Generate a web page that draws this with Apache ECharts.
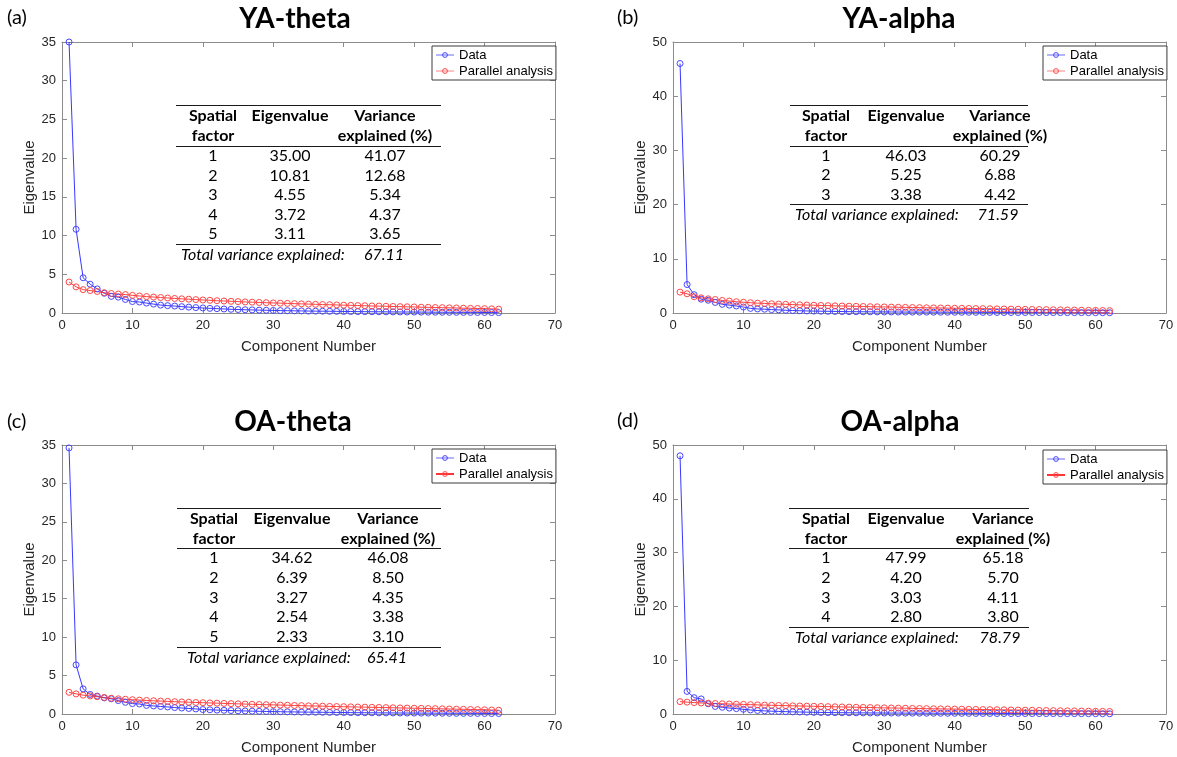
<!DOCTYPE html>
<html>
<head>
<meta charset="utf-8">
<title>Scree plots with parallel analysis</title>
<script src="https://cdn.jsdelivr.net/npm/echarts@6/dist/echarts.min.js"></script>
<style>
  html, body { margin: 0; padding: 0; background: #fff; }
  #chart { width: 1177px; height: 757px; }
</style>
</head>
<body>
<div id="chart"></div>
<script>
// ---- data -------------------------------------------------------------
const xTicks = [0, 10, 20, 30, 40, 50, 60, 70];

// YA-theta
const yaThetaData = [35.00, 10.81, 4.55, 3.72, 3.11, 2.55, 2.15, 2.05, 1.75, 1.48,
  1.42, 1.28, 1.15, 1.02, 0.95, 0.90, 0.82, 0.76, 0.70, 0.65,
  0.60, 0.56, 0.52, 0.48, 0.45, 0.42, 0.40, 0.37, 0.35, 0.33,
  0.31, 0.30, 0.28, 0.27, 0.25, 0.24, 0.23, 0.22, 0.21, 0.20,
  0.19, 0.18, 0.17, 0.165, 0.16, 0.15, 0.14, 0.135, 0.13, 0.12,
  0.115, 0.11, 0.10, 0.095, 0.09, 0.085, 0.08, 0.075, 0.07, 0.065,
  0.06, 0.05];
const yaThetaParallel = [4.00, 3.38, 3.02, 2.90, 2.78, 2.62, 2.52, 2.45, 2.38, 2.28,
  2.20, 2.12, 2.06, 2.00, 1.94, 1.88, 1.83, 1.78, 1.73, 1.68,
  1.64, 1.59, 1.55, 1.51, 1.47, 1.43, 1.40, 1.36, 1.33, 1.30,
  1.27, 1.24, 1.21, 1.18, 1.15, 1.12, 1.09, 1.07, 1.04, 1.01,
  0.99, 0.96, 0.94, 0.91, 0.89, 0.87, 0.84, 0.82, 0.80, 0.78,
  0.75, 0.73, 0.71, 0.69, 0.67, 0.65, 0.62, 0.60, 0.58, 0.56,
  0.53, 0.50];
const yaThetaTable = [
  ['1', '35.00', '41.07'],
  ['2', '10.81', '12.68'],
  ['3', '4.55', '5.34'],
  ['4', '3.72', '4.37'],
  ['5', '3.11', '3.65']
];
const yaThetaTotal = '67.11';

// YA-alpha
const yaAlphaData = [46.03, 5.25, 3.38, 2.55, 2.35, 1.95, 1.60, 1.45, 1.30, 1.10,
  0.85, 0.75, 0.70, 0.62, 0.58, 0.50, 0.46, 0.42, 0.38, 0.35,
  0.33, 0.31, 0.29, 0.27, 0.25, 0.24, 0.23, 0.22, 0.21, 0.20,
  0.19, 0.18, 0.17, 0.165, 0.16, 0.155, 0.15, 0.145, 0.14, 0.135,
  0.13, 0.125, 0.12, 0.115, 0.11, 0.105, 0.10, 0.097, 0.094, 0.09,
  0.087, 0.084, 0.08, 0.077, 0.074, 0.07, 0.067, 0.064, 0.06, 0.057,
  0.054, 0.05];
const yaAlphaParallel = [3.85, 3.55, 3.00, 2.80, 2.62, 2.48, 2.32, 2.20, 2.08, 1.98,
  1.90, 1.82, 1.76, 1.70, 1.65, 1.60, 1.55, 1.51, 1.47, 1.43,
  1.39, 1.36, 1.32, 1.29, 1.26, 1.23, 1.20, 1.17, 1.14, 1.12,
  1.09, 1.06, 1.04, 1.01, 0.99, 0.96, 0.94, 0.92, 0.90, 0.88,
  0.86, 0.84, 0.82, 0.80, 0.78, 0.76, 0.74, 0.72, 0.70, 0.68,
  0.66, 0.64, 0.62, 0.60, 0.58, 0.56, 0.54, 0.52, 0.50, 0.48,
  0.46, 0.43];
const yaAlphaTable = [
  ['1', '46.03', '60.29'],
  ['2', '5.25', '6.88'],
  ['3', '3.38', '4.42']
];
const yaAlphaTotal = '71.59';

// OA-theta
const oaThetaData = [34.62, 6.39, 3.27, 2.54, 2.33, 2.10, 1.98, 1.75, 1.52, 1.35,
  1.30, 1.12, 1.05, 0.98, 0.92, 0.84, 0.78, 0.72, 0.66, 0.58,
  0.55, 0.51, 0.48, 0.45, 0.42, 0.40, 0.37, 0.35, 0.33, 0.31,
  0.30, 0.28, 0.27, 0.25, 0.24, 0.23, 0.22, 0.21, 0.20, 0.19,
  0.18, 0.17, 0.165, 0.16, 0.15, 0.145, 0.14, 0.13, 0.125, 0.12,
  0.115, 0.11, 0.105, 0.10, 0.095, 0.09, 0.085, 0.08, 0.075, 0.07,
  0.065, 0.06];
const oaThetaParallel = [2.82, 2.62, 2.45, 2.35, 2.25, 2.15, 2.05, 1.98, 1.92, 1.86,
  1.81, 1.76, 1.72, 1.68, 1.64, 1.60, 1.57, 1.53, 1.50, 1.47,
  1.44, 1.41, 1.38, 1.35, 1.32, 1.29, 1.26, 1.24, 1.21, 1.19,
  1.16, 1.14, 1.11, 1.09, 1.06, 1.04, 1.02, 0.99, 0.97, 0.95,
  0.93, 0.91, 0.89, 0.87, 0.85, 0.83, 0.81, 0.79, 0.77, 0.75,
  0.73, 0.71, 0.69, 0.67, 0.65, 0.63, 0.61, 0.59, 0.57, 0.55,
  0.52, 0.49];
const oaThetaTable = [
  ['1', '34.62', '46.08'],
  ['2', '6.39', '8.50'],
  ['3', '3.27', '4.35'],
  ['4', '2.54', '3.38'],
  ['5', '2.33', '3.10']
];
const oaThetaTotal = '65.41';

// OA-alpha
const oaAlphaData = [47.99, 4.20, 3.03, 2.80, 1.90, 1.40, 1.25, 1.10, 1.00, 0.88,
  0.75, 0.65, 0.58, 0.52, 0.48, 0.44, 0.40, 0.37, 0.34, 0.31,
  0.29, 0.27, 0.25, 0.24, 0.23, 0.22, 0.21, 0.20, 0.19, 0.18,
  0.175, 0.17, 0.16, 0.155, 0.15, 0.145, 0.14, 0.135, 0.13, 0.125,
  0.12, 0.115, 0.11, 0.105, 0.10, 0.098, 0.095, 0.092, 0.09, 0.087,
  0.084, 0.08, 0.077, 0.074, 0.07, 0.067, 0.064, 0.06, 0.057, 0.054,
  0.05, 0.045];
const oaAlphaParallel = [2.30, 2.20, 2.12, 2.05, 2.00, 1.95, 1.90, 1.86, 1.82, 1.78,
  1.74, 1.70, 1.66, 1.62, 1.59, 1.56, 1.52, 1.49, 1.46, 1.43,
  1.40, 1.37, 1.34, 1.31, 1.28, 1.25, 1.22, 1.20, 1.17, 1.14,
  1.12, 1.09, 1.07, 1.04, 1.02, 1.00, 0.97, 0.95, 0.93, 0.91,
  0.89, 0.87, 0.85, 0.83, 0.81, 0.79, 0.77, 0.75, 0.73, 0.71,
  0.69, 0.67, 0.65, 0.63, 0.61, 0.59, 0.57, 0.55, 0.53, 0.51,
  0.49, 0.47];
const oaAlphaTable = [
  ['1', '47.99', '65.18'],
  ['2', '4.20', '5.70'],
  ['3', '3.03', '4.11'],
  ['4', '2.80', '3.80']
];
const oaAlphaTotal = '78.79';

const headerLeft = ['Spatial', 'factor'];
const headerMid = 'Eigenvalue';
const headerRight = ['Variance', 'explained (%)'];
const totalLabel = 'Total variance explained:';

// ---- layout & style ---------------------------------------------------
const UI_FONT = '"Liberation Sans", Arial, sans-serif';
const DOC_FONT = 'Lato, "Open Sans", sans-serif';
const BLUE_LINE = 'rgba(20,20,255,0.85)';
const BLUE_MARK = 'rgb(70,70,255)';
const RED_LINE = 'rgba(255,30,30,0.85)';
const RED_MARK = 'rgb(255,70,70)';
const AXIS_COLOR = '#8c8c8c';
const LABEL_COLOR = '#262626';

const panels = [
  {
    tag: '(a)', title: 'YA-theta', data: yaThetaData, parallel: yaThetaParallel,
    rows: yaThetaTable, total: yaThetaTotal, yMax: 35, yStep: 5,
    grid: { left: 62, top: 42, width: 493, height: 271 },
    tagPos: [7, 18], titlePos: [295, 19],
    legend: { left: 432, top: 46, paLine: 'rgba(255,80,80,0.35)' },
    table: { x0: 176, x1: 441, top: 105, h1: 116, h2: 136, rule: 146, row0: 156, step: 19.5,
             cols: [213, 290, 385], totalX: 181, totalValX: 384 }
  },
  {
    tag: '(b)', title: 'YA-alpha', data: yaAlphaData, parallel: yaAlphaParallel,
    rows: yaAlphaTable, total: yaAlphaTotal, yMax: 50, yStep: 10,
    grid: { left: 673, top: 42, width: 493, height: 271 },
    tagPos: [617, 18], titlePos: [899, 19],
    legend: { left: 1043, top: 46, paLine: 'rgba(255,80,80,0.35)' },
    table: { x0: 790, x1: 1028, top: 105, h1: 116, h2: 136, rule: 146, row0: 156, step: 19.3,
             cols: [826, 906, 1000], totalX: 795, totalValX: 998 }
  },
  {
    tag: '(c)', title: 'OA-theta', data: oaThetaData, parallel: oaThetaParallel,
    rows: oaThetaTable, total: oaThetaTotal, yMax: 35, yStep: 5,
    grid: { left: 62, top: 445, width: 493, height: 269 },
    tagPos: [7, 422], titlePos: [293, 422],
    legend: { left: 432, top: 449, paLine: 'rgba(255,30,30,0.9)' },
    table: { x0: 177, x1: 441, top: 508, h1: 519, h2: 539, rule: 548, row0: 558, step: 19.75,
             cols: [214, 292, 388], totalX: 187, totalValX: 387 }
  },
  {
    tag: '(d)', title: 'OA-alpha', data: oaAlphaData, parallel: oaAlphaParallel,
    rows: oaAlphaTable, total: oaAlphaTotal, yMax: 50, yStep: 10,
    grid: { left: 673, top: 445, width: 493, height: 269 },
    tagPos: [617, 421], titlePos: [900, 422],
    legend: { left: 1043, top: 450, paLine: 'rgba(255,30,30,0.9)' },
    table: { x0: 789, x1: 1029, top: 508, h1: 519, h2: 539, rule: 548, row0: 558, step: 19.7,
             cols: [826, 906, 1003], totalX: 795, totalValX: 1000 }
  }
];

// ---- option builders --------------------------------------------------
function toPoints(values) {
  return values.map((v, i) => [i + 1, v]);
}

function axisCommon(show) {
  return {
    axisLine: { show: true, onZero: false, lineStyle: { color: AXIS_COLOR, width: 1 } },
    axisTick: { show: true, inside: true, length: 5, lineStyle: { color: AXIS_COLOR } },
    axisLabel: { show: show, fontFamily: UI_FONT, fontSize: 13, color: LABEL_COLOR, margin: 6 },
    splitLine: { show: false }
  };
}

const grids = [], xAxes = [], yAxes = [], series = [], legends = [], graphics = [];

panels.forEach((p, i) => {
  grids.push(Object.assign({ containLabel: false }, p.grid));

  xAxes.push(Object.assign({
    gridIndex: i, type: 'value', position: 'bottom',
    min: xTicks[0], max: xTicks[xTicks.length - 1], interval: xTicks[1] - xTicks[0],
    name: 'Component Number', nameLocation: 'middle', nameGap: 26,
    nameTextStyle: { fontFamily: UI_FONT, fontSize: 15, color: LABEL_COLOR }
  }, axisCommon(true)));
  xAxes.push(Object.assign({
    gridIndex: i, type: 'value', position: 'top',
    min: xTicks[0], max: xTicks[xTicks.length - 1], interval: xTicks[1] - xTicks[0]
  }, axisCommon(false)));

  yAxes.push(Object.assign({
    gridIndex: i, type: 'value', position: 'left',
    min: 0, max: p.yMax, interval: p.yStep,
    name: 'Eigenvalue', nameLocation: 'middle', nameGap: 22,
    nameTextStyle: { fontFamily: UI_FONT, fontSize: 15, color: LABEL_COLOR }
  }, axisCommon(true)));
  yAxes.push(Object.assign({
    gridIndex: i, type: 'value', position: 'right',
    min: 0, max: p.yMax, interval: p.yStep
  }, axisCommon(false)));

  const lineSeries = (name, values, lineColor, markColor) => ({
    name: name, type: 'line',
    xAxisIndex: 2 * i, yAxisIndex: 2 * i,
    data: toPoints(values),
    symbol: 'circle', symbolSize: 6, showAllSymbol: true,
    lineStyle: { color: lineColor, width: 1 },
    itemStyle: { color: 'rgba(255,255,255,0)', borderColor: markColor, borderWidth: 1 },
    emphasis: { disabled: true },
    animation: false
  });
  series.push(lineSeries('Data', p.data, BLUE_LINE, BLUE_MARK));
  series.push(lineSeries('Parallel analysis', p.parallel, RED_LINE, RED_MARK));

  legends.push({
    orient: 'vertical', left: p.legend.left, top: p.legend.top,
    backgroundColor: '#fff', borderColor: '#3a3a3a', borderWidth: 1, borderRadius: 0,
    padding: [2, 3, 2, 3], itemGap: 2, itemWidth: 18, itemHeight: 6,
    selectedMode: false,
    textStyle: { fontFamily: UI_FONT, fontSize: 13, color: '#000', lineHeight: 14 },
    data: [
      { name: 'Data', lineStyle: { color: 'rgba(90,90,255,0.45)' },
        itemStyle: { color: 'rgba(255,255,255,0)', borderColor: BLUE_MARK, borderWidth: 1 } },
      { name: 'Parallel analysis', lineStyle: { color: p.legend.paLine },
        itemStyle: { color: 'rgba(255,255,255,0)', borderColor: RED_MARK, borderWidth: 1 } }
    ]
  });

  // panel tag and title
  graphics.push({
    type: 'text', x: p.tagPos[0], y: p.tagPos[1],
    style: { text: p.tag, font: '20px ' + DOC_FONT, fill: '#000', align: 'left', verticalAlign: 'middle' }
  });
  graphics.push({
    type: 'text', x: p.titlePos[0], y: p.titlePos[1],
    style: { text: p.title, font: 'bold 28px ' + DOC_FONT, fill: '#000', align: 'center', verticalAlign: 'middle' }
  });

  // summary table
  const t = p.table;
  const rule = (y) => ({
    type: 'line', shape: { x1: t.x0, y1: Math.round(y) + 0.5, x2: t.x1, y2: Math.round(y) + 0.5 },
    style: { stroke: '#1a1a1a', lineWidth: 1 }
  });
  const cell = (text, x, y, weight, italic) => ({
    type: 'text', x: x, y: y,
    style: {
      text: text, fill: '#000', align: 'center', verticalAlign: 'middle',
      font: (italic ? 'italic ' : '') + (weight || 'normal') + ' 16px ' + DOC_FONT
    }
  });
  graphics.push(rule(t.top));
  graphics.push(cell(headerLeft[0], t.cols[0], t.h1, 'bold'));
  graphics.push(cell(headerLeft[1], t.cols[0], t.h2, 'bold'));
  graphics.push(cell(headerMid, t.cols[1], t.h1, 'bold'));
  graphics.push(cell(headerRight[0], t.cols[2], t.h1, 'bold'));
  graphics.push(cell(headerRight[1], t.cols[2], t.h2, 'bold'));
  graphics.push(rule(t.rule));
  p.rows.forEach((r, k) => {
    const y = t.row0 + k * t.step;
    r.forEach((v, c) => graphics.push(cell(v, t.cols[c], y)));
  });
  const lastY = t.row0 + (p.rows.length - 1) * t.step;
  graphics.push(rule(lastY + 9.5));
  graphics.push({
    type: 'text', x: t.totalX, y: lastY + 20.5,
    style: { text: totalLabel, fill: '#000', align: 'left', verticalAlign: 'middle', font: 'italic 16px ' + DOC_FONT }
  });
  graphics.push(cell(p.total, t.totalValX, lastY + 20.5, 'normal', true));
});

const chart = echarts.init(document.getElementById('chart'), null, { renderer: 'canvas' });
chart.setOption({
  backgroundColor: '#fff',
  animation: false,
  grid: grids,
  xAxis: xAxes,
  yAxis: yAxes,
  legend: legends,
  series: series,
  graphic: { elements: graphics }
});
</script>
</body>
</html>
